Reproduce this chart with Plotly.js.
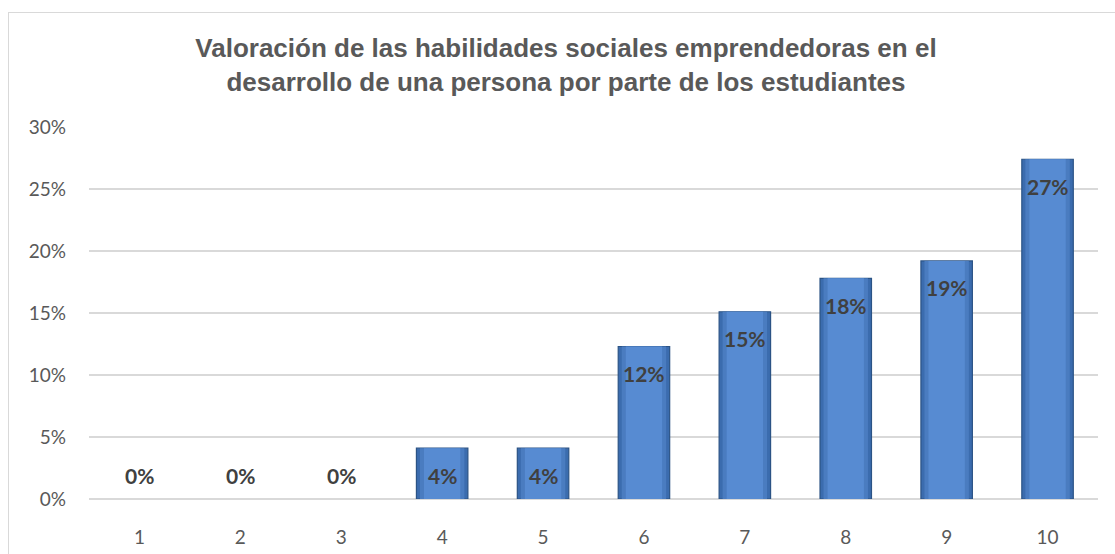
<!DOCTYPE html>
<html><head><meta charset="utf-8">
<script src="https://cdn.plot.ly/plotly-3.0.1.min.js"></script>
<style>
html,body{margin:0;padding:0;background:#fff;}
#wrap{position:relative;width:1115px;height:554px;overflow:hidden;}
#chart{position:absolute;left:0;top:0;width:1115px;height:554px;}
#frame{position:absolute;left:8px;top:12px;width:1120px;height:560px;border:1px solid #d9d9d9;pointer-events:none;}
</style></head>
<body>
<div id="wrap"><div id="chart"></div><div id="frame"></div></div>
<script>
const categories = ['1','2','3','4','5','6','7','8','9','10'];
const values = [0, 0, 0, 0.041, 0.041, 0.123, 0.151, 0.178, 0.192, 0.274];
const labels = ['0%','0%','0%','4%','4%','12%','15%','18%','19%','27%'];
const titleText = 'Valoración de las habilidades sociales emprendedoras en el<br>desarrollo de una persona por parte de los estudiantes';

const edgeColors = values.map(v => v > 0 ? '#2b5385' : 'rgba(0,0,0,0)');

const outer = {
  type: 'bar', x: categories, y: values, width: 0.51,
  marker: {color: '#3b6cae', line: {color: edgeColors, width: 1.2}},
  hoverinfo: 'skip'
};
const middle = {
  type: 'bar', x: categories, y: values, width: 0.44,
  marker: {color: '#4a7cc0', line: {width: 0}},
  hoverinfo: 'skip'
};
const inner = {
  type: 'bar', x: categories, y: values, width: 0.36,
  marker: {color: '#578bd2', line: {width: 0}},
  hoverinfo: 'skip'
};

const annotations = categories.map((c, i) => ({
  x: i, y: values[i], xref: 'x', yref: 'y',
  text: '<b>' + labels[i] + '</b>',
  showarrow: false,
  yshift: values[i] > 0 ? -27 : 24,
  font: {family: 'Lato, "Open Sans", sans-serif', size: 21, color: '#404040'}
}));

const layout = {
  width: 1115, height: 554,
  margin: {l: 89, r: 17, t: 127, b: 55},
  paper_bgcolor: 'rgba(0,0,0,0)', plot_bgcolor: '#fff',
  barmode: 'overlay', showlegend: false,
  title: {
    text: titleText, x: 0.5076, xref: 'container', xanchor: 'center',
    y: 0.897, yref: 'container', yanchor: 'middle',
    font: {family: '"Liberation Sans", Arial, sans-serif', size: 26, color: '#595959', weight: 'bold'}
  },
  xaxis: {
    type: 'category', showgrid: false, zeroline: false, showline: false,
    ticks: '', ticklabelstandoff: 25,
    tickfont: {family: 'Lato, "Open Sans", sans-serif', size: 19, color: '#595959'}
  },
  yaxis: {
    range: [0, 0.3], dtick: 0.05, tickformat: '.0%',
    showgrid: true, gridcolor: '#d9d9d9', gridwidth: 1.3,
    zeroline: true, zerolinecolor: '#d9d9d9', zerolinewidth: 1.5,
    showline: false, ticks: '', ticklabelstandoff: 22,
    tickfont: {family: 'Lato, "Open Sans", sans-serif', size: 19, color: '#595959'}
  },
  annotations: annotations
};

Plotly.newPlot('chart', [outer, middle, inner], layout, {displayModeBar: false, staticPlot: true});
</script>
</body></html>
